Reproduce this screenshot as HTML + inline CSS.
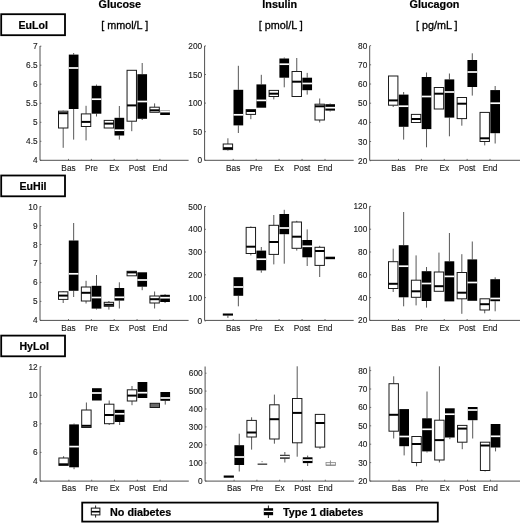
<!DOCTYPE html>
<html><head><meta charset="utf-8"><title>Box plots</title>
<style>
html,body{margin:0;padding:0;background:#fff;}
svg{display:block;}
text{font-family:"Liberation Sans",sans-serif;fill:#1c1c1c;}
.t{font-size:8.3px;fill:#1a1a1a;stroke:#1a1a1a;stroke-width:0.12px;}
.b{font-size:10.8px;font-weight:bold;fill:#000;stroke:#000;stroke-width:0.2px;}
.u{font-size:10.8px;fill:#000;stroke:#000;stroke-width:0.3px;}
</style></head><body>
<svg width="520" height="523" viewBox="0 0 520 523">
<defs><filter id="soft" x="0" y="0" width="520" height="523" filterUnits="userSpaceOnUse"><feGaussianBlur stdDeviation="0.38"/></filter></defs>
<rect width="520" height="523" fill="#fff"/>
<g filter="url(#soft)">
<rect width="520" height="523" fill="#fff"/>
<path d="M40 46V160.3H188.6" fill="none" stroke="#505050" stroke-width="1"/>
<path d="M40 46.2h1.4" stroke="#505050" stroke-width="0.8"/>
<text x="37.6" y="49.2" text-anchor="end" class="t">7</text>
<path d="M40 65.2h1.4" stroke="#505050" stroke-width="0.8"/>
<text x="37.6" y="68.2" text-anchor="end" class="t">6.5</text>
<path d="M40 84.2h1.4" stroke="#505050" stroke-width="0.8"/>
<text x="37.6" y="87.2" text-anchor="end" class="t">6</text>
<path d="M40 103.3h1.4" stroke="#505050" stroke-width="0.8"/>
<text x="37.6" y="106.3" text-anchor="end" class="t">5.5</text>
<path d="M40 122.3h1.4" stroke="#505050" stroke-width="0.8"/>
<text x="37.6" y="125.3" text-anchor="end" class="t">5</text>
<path d="M40 141.3h1.4" stroke="#505050" stroke-width="0.8"/>
<text x="37.6" y="144.3" text-anchor="end" class="t">4.5</text>
<path d="M40 160.3h1.4" stroke="#505050" stroke-width="0.8"/>
<text x="37.6" y="163.3" text-anchor="end" class="t">4</text>
<path d="M68.5 160.3v-1.4" stroke="#505050" stroke-width="0.8"/>
<text x="68.5" y="170.5" text-anchor="middle" class="t">Bas</text>
<path d="M63.2 110.6V111.2" stroke="#444" stroke-width="0.9"/>
<path d="M63.2 128V147.8" stroke="#444" stroke-width="0.9"/>
<rect x="58.5" y="111.2" width="9.4" height="16.8" fill="#fff" stroke="#1a1a1a" stroke-width="1"/>
<path d="M58.5 113.2H67.9" stroke="#000" stroke-width="2"/>
<path d="M73.65 53V54.6" stroke="#444" stroke-width="0.9"/>
<path d="M73.65 109V139.6" stroke="#444" stroke-width="0.9"/>
<rect x="68.8" y="54.6" width="9.7" height="54.4" fill="#000"/>
<path d="M68.8 68H78.5" stroke="#fff" stroke-width="1.7"/>
<path d="M91.35 160.3v-1.4" stroke="#505050" stroke-width="0.8"/>
<text x="91.35" y="170.5" text-anchor="middle" class="t">Pre</text>
<path d="M86.05 105.8V113.9" stroke="#444" stroke-width="0.9"/>
<path d="M86.05 126.5V140.4" stroke="#444" stroke-width="0.9"/>
<rect x="81.35" y="113.9" width="9.4" height="12.6" fill="#fff" stroke="#1a1a1a" stroke-width="1"/>
<path d="M81.35 121.9H90.75" stroke="#000" stroke-width="2"/>
<path d="M96.5 84.6V85.8" stroke="#444" stroke-width="0.9"/>
<path d="M96.5 113.7V116.5" stroke="#444" stroke-width="0.9"/>
<rect x="91.65" y="85.8" width="9.7" height="27.9" fill="#000"/>
<path d="M91.65 99.2H101.35" stroke="#fff" stroke-width="1.7"/>
<path d="M114.2 160.3v-1.4" stroke="#505050" stroke-width="0.8"/>
<text x="114.2" y="170.5" text-anchor="middle" class="t">Ex</text>
<rect x="104.2" y="120.4" width="9.4" height="7.6" fill="#fff" stroke="#1a1a1a" stroke-width="1"/>
<path d="M104.2 123.6H113.6" stroke="#000" stroke-width="2"/>
<path d="M119.35 106V117.8" stroke="#444" stroke-width="0.9"/>
<path d="M119.35 135.5V139.6" stroke="#444" stroke-width="0.9"/>
<rect x="114.5" y="117.8" width="9.7" height="17.7" fill="#000"/>
<path d="M114.5 130.2H124.2" stroke="#fff" stroke-width="1.7"/>
<path d="M137.05 160.3v-1.4" stroke="#505050" stroke-width="0.8"/>
<text x="137.05" y="170.5" text-anchor="middle" class="t">Post</text>
<path d="M131.75 121.2V131.2" stroke="#444" stroke-width="0.9"/>
<rect x="127.05" y="70.3" width="9.4" height="50.9" fill="#fff" stroke="#1a1a1a" stroke-width="1"/>
<path d="M127.05 105.4H136.45" stroke="#000" stroke-width="2"/>
<path d="M142.2 63V74.2" stroke="#444" stroke-width="0.9"/>
<path d="M142.2 118.8V120" stroke="#444" stroke-width="0.9"/>
<rect x="137.35" y="74.2" width="9.7" height="44.6" fill="#000"/>
<path d="M137.35 101.5H147.05" stroke="#fff" stroke-width="1.7"/>
<path d="M159.9 160.3v-1.4" stroke="#505050" stroke-width="0.8"/>
<text x="159.9" y="170.5" text-anchor="middle" class="t">End</text>
<path d="M154.6 103.4V107.2" stroke="#444" stroke-width="0.9"/>
<rect x="149.9" y="107.2" width="9.4" height="5.1" fill="#fff" stroke="#1a1a1a" stroke-width="1"/>
<path d="M149.9 110.3H159.3" stroke="#000" stroke-width="2"/>
<rect x="160.2" y="110.6" width="9.7" height="4.4" fill="#000"/>
<path d="M160.2 111.6H169.9" stroke="#fff" stroke-width="1.7"/>
<path d="M204.6 46V160.3H353.7" fill="none" stroke="#505050" stroke-width="1"/>
<path d="M204.6 45.9h1.4" stroke="#505050" stroke-width="0.8"/>
<text x="202.2" y="48.9" text-anchor="end" class="t">200</text>
<path d="M204.6 74.5h1.4" stroke="#505050" stroke-width="0.8"/>
<text x="202.2" y="77.5" text-anchor="end" class="t">150</text>
<path d="M204.6 103.1h1.4" stroke="#505050" stroke-width="0.8"/>
<text x="202.2" y="106.1" text-anchor="end" class="t">100</text>
<path d="M204.6 131.7h1.4" stroke="#505050" stroke-width="0.8"/>
<text x="202.2" y="134.7" text-anchor="end" class="t">50</text>
<path d="M204.6 160.3h1.4" stroke="#505050" stroke-width="0.8"/>
<text x="202.2" y="163.3" text-anchor="end" class="t">0</text>
<path d="M233.2 160.3v-1.4" stroke="#505050" stroke-width="0.8"/>
<text x="233.2" y="170.5" text-anchor="middle" class="t">Bas</text>
<path d="M227.9 138.3V144" stroke="#444" stroke-width="0.9"/>
<path d="M227.9 149.6V150.6" stroke="#444" stroke-width="0.9"/>
<rect x="223.2" y="144" width="9.4" height="5.6" fill="#fff" stroke="#1a1a1a" stroke-width="1"/>
<path d="M223.2 148.2H232.6" stroke="#000" stroke-width="2"/>
<path d="M238.35 65.8V89.8" stroke="#444" stroke-width="0.9"/>
<path d="M238.35 125.4V133" stroke="#444" stroke-width="0.9"/>
<rect x="233.5" y="89.8" width="9.7" height="35.6" fill="#000"/>
<path d="M233.5 114.8H243.2" stroke="#fff" stroke-width="1.7"/>
<path d="M256.15 160.3v-1.4" stroke="#505050" stroke-width="0.8"/>
<text x="256.15" y="170.5" text-anchor="middle" class="t">Pre</text>
<path d="M250.85 114.4V119.2" stroke="#444" stroke-width="0.9"/>
<rect x="246.15" y="109.6" width="9.4" height="4.8" fill="#fff" stroke="#1a1a1a" stroke-width="1"/>
<path d="M246.15 111H255.55" stroke="#000" stroke-width="2"/>
<path d="M261.3 74.8V84.4" stroke="#444" stroke-width="0.9"/>
<rect x="256.45" y="84.4" width="9.7" height="23.3" fill="#000"/>
<path d="M256.45 100.4H266.15" stroke="#fff" stroke-width="1.7"/>
<path d="M279.1 160.3v-1.4" stroke="#505050" stroke-width="0.8"/>
<text x="279.1" y="170.5" text-anchor="middle" class="t">Ex</text>
<path d="M273.8 96.5V99.4" stroke="#444" stroke-width="0.9"/>
<rect x="269.1" y="90.4" width="9.4" height="6.1" fill="#fff" stroke="#1a1a1a" stroke-width="1"/>
<path d="M269.1 93.7H278.5" stroke="#000" stroke-width="2"/>
<path d="M284.25 57.5V58.5" stroke="#444" stroke-width="0.9"/>
<path d="M284.25 77.7V87.3" stroke="#444" stroke-width="0.9"/>
<rect x="279.4" y="58.5" width="9.7" height="19.2" fill="#000"/>
<path d="M279.4 64.2H289.1" stroke="#fff" stroke-width="1.7"/>
<path d="M302.05 160.3v-1.4" stroke="#505050" stroke-width="0.8"/>
<text x="302.05" y="170.5" text-anchor="middle" class="t">Post</text>
<path d="M296.75 58V71.5" stroke="#444" stroke-width="0.9"/>
<rect x="292.05" y="71.5" width="9.4" height="25" fill="#fff" stroke="#1a1a1a" stroke-width="1"/>
<path d="M292.05 81.7H301.45" stroke="#000" stroke-width="2"/>
<path d="M307.2 72.9V77.7" stroke="#444" stroke-width="0.9"/>
<path d="M307.2 90.2V94.6" stroke="#444" stroke-width="0.9"/>
<rect x="302.35" y="77.7" width="9.7" height="12.5" fill="#000"/>
<path d="M302.35 83.5H312.05" stroke="#fff" stroke-width="1.7"/>
<path d="M325 160.3v-1.4" stroke="#505050" stroke-width="0.8"/>
<text x="325" y="170.5" text-anchor="middle" class="t">End</text>
<path d="M319.7 98.5V104.2" stroke="#444" stroke-width="0.9"/>
<path d="M319.7 120V122.5" stroke="#444" stroke-width="0.9"/>
<rect x="315" y="104.2" width="9.4" height="15.8" fill="#fff" stroke="#1a1a1a" stroke-width="1"/>
<path d="M315 106.3H324.4" stroke="#000" stroke-width="2"/>
<path d="M330.15 103.5V104.2" stroke="#444" stroke-width="0.9"/>
<path d="M330.15 110.6V111.5" stroke="#444" stroke-width="0.9"/>
<rect x="325.3" y="104.2" width="9.7" height="6.4" fill="#000"/>
<path d="M325.3 107.7H335" stroke="#fff" stroke-width="1.7"/>
<path d="M369.7 46V160.3H520.5" fill="none" stroke="#505050" stroke-width="1"/>
<path d="M369.7 45.6h1.4" stroke="#505050" stroke-width="0.8"/>
<text x="367.3" y="48.6" text-anchor="end" class="t">80</text>
<path d="M369.7 64.8h1.4" stroke="#505050" stroke-width="0.8"/>
<text x="367.3" y="67.8" text-anchor="end" class="t">70</text>
<path d="M369.7 84h1.4" stroke="#505050" stroke-width="0.8"/>
<text x="367.3" y="87" text-anchor="end" class="t">60</text>
<path d="M369.7 103.2h1.4" stroke="#505050" stroke-width="0.8"/>
<text x="367.3" y="106.2" text-anchor="end" class="t">50</text>
<path d="M369.7 122.4h1.4" stroke="#505050" stroke-width="0.8"/>
<text x="367.3" y="125.4" text-anchor="end" class="t">40</text>
<path d="M369.7 141.5h1.4" stroke="#505050" stroke-width="0.8"/>
<text x="367.3" y="144.5" text-anchor="end" class="t">30</text>
<path d="M369.7 160.7h1.4" stroke="#505050" stroke-width="0.8"/>
<text x="367.3" y="163.7" text-anchor="end" class="t">20</text>
<path d="M398.5 160.3v-1.4" stroke="#505050" stroke-width="0.8"/>
<text x="398.5" y="170.5" text-anchor="middle" class="t">Bas</text>
<path d="M393.2 105.2V107" stroke="#444" stroke-width="0.9"/>
<rect x="388.5" y="76" width="9.4" height="29.2" fill="#fff" stroke="#1a1a1a" stroke-width="1"/>
<path d="M388.5 100.4H397.9" stroke="#000" stroke-width="2"/>
<path d="M403.65 92V94.6" stroke="#444" stroke-width="0.9"/>
<path d="M403.65 126.8V139.6" stroke="#444" stroke-width="0.9"/>
<rect x="398.8" y="94.6" width="9.7" height="32.2" fill="#000"/>
<path d="M398.8 106.2H408.5" stroke="#fff" stroke-width="1.7"/>
<path d="M421.38 160.3v-1.4" stroke="#505050" stroke-width="0.8"/>
<text x="421.38" y="170.5" text-anchor="middle" class="t">Pre</text>
<rect x="411.38" y="114.4" width="9.4" height="8.1" fill="#fff" stroke="#1a1a1a" stroke-width="1"/>
<path d="M411.38 119H420.78" stroke="#000" stroke-width="2"/>
<path d="M426.53 72.5V77" stroke="#444" stroke-width="0.9"/>
<path d="M426.53 129.1V147.3" stroke="#444" stroke-width="0.9"/>
<rect x="421.68" y="77" width="9.7" height="52.1" fill="#000"/>
<path d="M421.68 96.5H431.38" stroke="#fff" stroke-width="1.7"/>
<path d="M444.26 160.3v-1.4" stroke="#505050" stroke-width="0.8"/>
<text x="444.26" y="170.5" text-anchor="middle" class="t">Ex</text>
<rect x="434.26" y="87.5" width="9.4" height="21.5" fill="#fff" stroke="#1a1a1a" stroke-width="1"/>
<path d="M434.26 93.7H443.66" stroke="#000" stroke-width="2"/>
<path d="M449.41 73.5V79.4" stroke="#444" stroke-width="0.9"/>
<path d="M449.41 117.6V136.3" stroke="#444" stroke-width="0.9"/>
<rect x="444.56" y="79.4" width="9.7" height="38.2" fill="#000"/>
<path d="M444.56 92H454.26" stroke="#fff" stroke-width="1.7"/>
<path d="M467.14 160.3v-1.4" stroke="#505050" stroke-width="0.8"/>
<text x="467.14" y="170.5" text-anchor="middle" class="t">Post</text>
<path d="M461.84 118.6V125.7" stroke="#444" stroke-width="0.9"/>
<rect x="457.14" y="97.5" width="9.4" height="21.1" fill="#fff" stroke="#1a1a1a" stroke-width="1"/>
<path d="M457.14 103.7H466.54" stroke="#000" stroke-width="2"/>
<path d="M472.29 53.3V60" stroke="#444" stroke-width="0.9"/>
<path d="M472.29 87V95.6" stroke="#444" stroke-width="0.9"/>
<rect x="467.44" y="60" width="9.7" height="27" fill="#000"/>
<path d="M467.44 72H477.14" stroke="#fff" stroke-width="1.7"/>
<path d="M490.02 160.3v-1.4" stroke="#505050" stroke-width="0.8"/>
<text x="490.02" y="170.5" text-anchor="middle" class="t">End</text>
<path d="M484.72 141.5V145.4" stroke="#444" stroke-width="0.9"/>
<rect x="480.02" y="112.4" width="9.4" height="29.1" fill="#fff" stroke="#1a1a1a" stroke-width="1"/>
<path d="M480.02 138.3H489.42" stroke="#000" stroke-width="2"/>
<path d="M495.17 86V90.1" stroke="#444" stroke-width="0.9"/>
<path d="M495.17 133.2V143.5" stroke="#444" stroke-width="0.9"/>
<rect x="490.32" y="90.1" width="9.7" height="43.1" fill="#000"/>
<path d="M490.32 103.2H500.02" stroke="#fff" stroke-width="1.7"/>
<path d="M40 206.3V320.4H188.6" fill="none" stroke="#505050" stroke-width="1"/>
<path d="M40 206.5h1.4" stroke="#505050" stroke-width="0.8"/>
<text x="37.6" y="209.5" text-anchor="end" class="t">10</text>
<path d="M40 225.5h1.4" stroke="#505050" stroke-width="0.8"/>
<text x="37.6" y="228.5" text-anchor="end" class="t">9</text>
<path d="M40 244.5h1.4" stroke="#505050" stroke-width="0.8"/>
<text x="37.6" y="247.5" text-anchor="end" class="t">8</text>
<path d="M40 263.4h1.4" stroke="#505050" stroke-width="0.8"/>
<text x="37.6" y="266.4" text-anchor="end" class="t">7</text>
<path d="M40 282.4h1.4" stroke="#505050" stroke-width="0.8"/>
<text x="37.6" y="285.4" text-anchor="end" class="t">6</text>
<path d="M40 301.4h1.4" stroke="#505050" stroke-width="0.8"/>
<text x="37.6" y="304.4" text-anchor="end" class="t">5</text>
<path d="M40 320.4h1.4" stroke="#505050" stroke-width="0.8"/>
<text x="37.6" y="323.4" text-anchor="end" class="t">4</text>
<path d="M68.5 320.4v-1.4" stroke="#505050" stroke-width="0.8"/>
<text x="68.5" y="330.6" text-anchor="middle" class="t">Bas</text>
<path d="M63.2 291V291.8" stroke="#444" stroke-width="0.9"/>
<path d="M63.2 299.4V303" stroke="#444" stroke-width="0.9"/>
<rect x="58.5" y="291.8" width="9.4" height="7.6" fill="#fff" stroke="#1a1a1a" stroke-width="1"/>
<path d="M58.5 295.6H67.9" stroke="#000" stroke-width="2"/>
<path d="M73.65 223V240.5" stroke="#444" stroke-width="0.9"/>
<path d="M73.65 290.8V297" stroke="#444" stroke-width="0.9"/>
<rect x="68.8" y="240.5" width="9.7" height="50.3" fill="#000"/>
<path d="M68.8 273.8H78.5" stroke="#fff" stroke-width="1.7"/>
<path d="M91.35 320.4v-1.4" stroke="#505050" stroke-width="0.8"/>
<text x="91.35" y="330.6" text-anchor="middle" class="t">Pre</text>
<path d="M86.05 280.8V287" stroke="#444" stroke-width="0.9"/>
<path d="M86.05 301V303.5" stroke="#444" stroke-width="0.9"/>
<rect x="81.35" y="287" width="9.4" height="14" fill="#fff" stroke="#1a1a1a" stroke-width="1"/>
<path d="M81.35 292.8H90.75" stroke="#000" stroke-width="2"/>
<path d="M96.5 275V285.8" stroke="#444" stroke-width="0.9"/>
<path d="M96.5 308.6V309.5" stroke="#444" stroke-width="0.9"/>
<rect x="91.65" y="285.8" width="9.7" height="22.8" fill="#000"/>
<path d="M91.65 297.5H101.35" stroke="#fff" stroke-width="1.7"/>
<path d="M114.2 320.4v-1.4" stroke="#505050" stroke-width="0.8"/>
<text x="114.2" y="330.6" text-anchor="middle" class="t">Ex</text>
<path d="M108.9 301V302.3" stroke="#444" stroke-width="0.9"/>
<path d="M108.9 306.3V309.6" stroke="#444" stroke-width="0.9"/>
<rect x="104.2" y="302.3" width="9.4" height="4" fill="#fff" stroke="#1a1a1a" stroke-width="1"/>
<path d="M104.2 304.8H113.6" stroke="#000" stroke-width="2"/>
<path d="M119.35 282.3V288" stroke="#444" stroke-width="0.9"/>
<path d="M119.35 300.6V308.5" stroke="#444" stroke-width="0.9"/>
<rect x="114.5" y="288" width="9.7" height="12.6" fill="#000"/>
<path d="M114.5 297.3H124.2" stroke="#fff" stroke-width="1.7"/>
<path d="M137.05 320.4v-1.4" stroke="#505050" stroke-width="0.8"/>
<text x="137.05" y="330.6" text-anchor="middle" class="t">Post</text>
<rect x="127.05" y="271.3" width="9.4" height="4.5" fill="#fff" stroke="#1a1a1a" stroke-width="1"/>
<path d="M127.05 272.4H136.45" stroke="#000" stroke-width="2"/>
<path d="M142.2 286.7V290.2" stroke="#444" stroke-width="0.9"/>
<rect x="137.35" y="272.3" width="9.7" height="14.4" fill="#000"/>
<path d="M137.35 280H147.05" stroke="#fff" stroke-width="1.7"/>
<path d="M159.9 320.4v-1.4" stroke="#505050" stroke-width="0.8"/>
<text x="159.9" y="330.6" text-anchor="middle" class="t">End</text>
<path d="M154.6 291.5V296" stroke="#444" stroke-width="0.9"/>
<path d="M154.6 303V308.5" stroke="#444" stroke-width="0.9"/>
<rect x="149.9" y="296" width="9.4" height="7" fill="#fff" stroke="#1a1a1a" stroke-width="1"/>
<path d="M149.9 299.2H159.3" stroke="#000" stroke-width="2"/>
<path d="M165.05 294V294.8" stroke="#444" stroke-width="0.9"/>
<path d="M165.05 302V303" stroke="#444" stroke-width="0.9"/>
<rect x="160.2" y="294.8" width="9.7" height="7.2" fill="#000"/>
<path d="M160.2 297.7H169.9" stroke="#fff" stroke-width="1.7"/>
<path d="M204.6 206.3V320.4H353.7" fill="none" stroke="#505050" stroke-width="1"/>
<path d="M204.6 206.5h1.4" stroke="#505050" stroke-width="0.8"/>
<text x="202.2" y="209.5" text-anchor="end" class="t">500</text>
<path d="M204.6 229.3h1.4" stroke="#505050" stroke-width="0.8"/>
<text x="202.2" y="232.3" text-anchor="end" class="t">400</text>
<path d="M204.6 252h1.4" stroke="#505050" stroke-width="0.8"/>
<text x="202.2" y="255" text-anchor="end" class="t">300</text>
<path d="M204.6 274.8h1.4" stroke="#505050" stroke-width="0.8"/>
<text x="202.2" y="277.8" text-anchor="end" class="t">200</text>
<path d="M204.6 297.6h1.4" stroke="#505050" stroke-width="0.8"/>
<text x="202.2" y="300.6" text-anchor="end" class="t">100</text>
<path d="M204.6 320.9h1.4" stroke="#505050" stroke-width="0.8"/>
<text x="202.2" y="323.9" text-anchor="end" class="t">0</text>
<path d="M233.2 320.4v-1.4" stroke="#505050" stroke-width="0.8"/>
<text x="233.2" y="330.6" text-anchor="middle" class="t">Bas</text>
<path d="M227.9 315.6V317.9" stroke="#444" stroke-width="0.9"/>
<rect x="222.8" y="313.5" width="10.2" height="2.1" fill="#000"/>
<path d="M238.35 295.8V306.3" stroke="#444" stroke-width="0.9"/>
<rect x="233.5" y="277.2" width="9.7" height="18.6" fill="#000"/>
<path d="M233.5 287H243.2" stroke="#fff" stroke-width="1.7"/>
<path d="M256.15 320.4v-1.4" stroke="#505050" stroke-width="0.8"/>
<text x="256.15" y="330.6" text-anchor="middle" class="t">Pre</text>
<path d="M250.85 226.4V227.4" stroke="#444" stroke-width="0.9"/>
<path d="M250.85 253.5V255.4" stroke="#444" stroke-width="0.9"/>
<rect x="246.15" y="227.4" width="9.4" height="26.1" fill="#fff" stroke="#1a1a1a" stroke-width="1"/>
<path d="M246.15 246.7H255.55" stroke="#000" stroke-width="2"/>
<path d="M261.3 247V250.6" stroke="#444" stroke-width="0.9"/>
<path d="M261.3 270.4V272.7" stroke="#444" stroke-width="0.9"/>
<rect x="256.45" y="250.6" width="9.7" height="19.8" fill="#000"/>
<path d="M256.45 259.2H266.15" stroke="#fff" stroke-width="1.7"/>
<path d="M279.1 320.4v-1.4" stroke="#505050" stroke-width="0.8"/>
<text x="279.1" y="330.6" text-anchor="middle" class="t">Ex</text>
<path d="M273.8 215V225.3" stroke="#444" stroke-width="0.9"/>
<path d="M273.8 254.4V264.4" stroke="#444" stroke-width="0.9"/>
<rect x="269.1" y="225.3" width="9.4" height="29.1" fill="#fff" stroke="#1a1a1a" stroke-width="1"/>
<path d="M269.1 242H278.5" stroke="#000" stroke-width="2"/>
<path d="M284.25 209.8V214" stroke="#444" stroke-width="0.9"/>
<path d="M284.25 234.2V263.7" stroke="#444" stroke-width="0.9"/>
<rect x="279.4" y="214" width="9.7" height="20.2" fill="#000"/>
<path d="M279.4 228H289.1" stroke="#fff" stroke-width="1.7"/>
<path d="M302.05 320.4v-1.4" stroke="#505050" stroke-width="0.8"/>
<text x="302.05" y="330.6" text-anchor="middle" class="t">Post</text>
<path d="M296.75 220.8V222" stroke="#444" stroke-width="0.9"/>
<path d="M296.75 248.3V250.6" stroke="#444" stroke-width="0.9"/>
<rect x="292.05" y="222" width="9.4" height="26.3" fill="#fff" stroke="#1a1a1a" stroke-width="1"/>
<path d="M292.05 236.7H301.45" stroke="#000" stroke-width="2"/>
<path d="M307.2 229.4V240" stroke="#444" stroke-width="0.9"/>
<path d="M307.2 257.3V266" stroke="#444" stroke-width="0.9"/>
<rect x="302.35" y="240" width="9.7" height="17.3" fill="#000"/>
<path d="M302.35 246.3H312.05" stroke="#fff" stroke-width="1.7"/>
<path d="M325 320.4v-1.4" stroke="#505050" stroke-width="0.8"/>
<text x="325" y="330.6" text-anchor="middle" class="t">End</text>
<path d="M319.7 245.8V247.3" stroke="#444" stroke-width="0.9"/>
<path d="M319.7 265.4V277" stroke="#444" stroke-width="0.9"/>
<rect x="315" y="247.3" width="9.4" height="18.1" fill="#fff" stroke="#1a1a1a" stroke-width="1"/>
<path d="M315 251H324.4" stroke="#000" stroke-width="2"/>
<rect x="325.3" y="256.7" width="9.7" height="2.5" fill="#000"/>
<path d="M369.7 206.3V320.4H520.5" fill="none" stroke="#505050" stroke-width="1"/>
<path d="M369.7 206.4h1.4" stroke="#505050" stroke-width="0.8"/>
<text x="367.3" y="209.4" text-anchor="end" class="t">120</text>
<path d="M369.7 229.2h1.4" stroke="#505050" stroke-width="0.8"/>
<text x="367.3" y="232.2" text-anchor="end" class="t">100</text>
<path d="M369.7 252h1.4" stroke="#505050" stroke-width="0.8"/>
<text x="367.3" y="255" text-anchor="end" class="t">80</text>
<path d="M369.7 274.8h1.4" stroke="#505050" stroke-width="0.8"/>
<text x="367.3" y="277.8" text-anchor="end" class="t">60</text>
<path d="M369.7 297.6h1.4" stroke="#505050" stroke-width="0.8"/>
<text x="367.3" y="300.6" text-anchor="end" class="t">40</text>
<path d="M369.7 320.4h1.4" stroke="#505050" stroke-width="0.8"/>
<text x="367.3" y="323.4" text-anchor="end" class="t">20</text>
<path d="M398.5 320.4v-1.4" stroke="#505050" stroke-width="0.8"/>
<text x="398.5" y="330.6" text-anchor="middle" class="t">Bas</text>
<path d="M393.2 248.7V261.7" stroke="#444" stroke-width="0.9"/>
<path d="M393.2 288.5V292" stroke="#444" stroke-width="0.9"/>
<rect x="388.5" y="261.7" width="9.4" height="26.8" fill="#fff" stroke="#1a1a1a" stroke-width="1"/>
<path d="M388.5 283.8H397.9" stroke="#000" stroke-width="2"/>
<path d="M403.65 212V245.2" stroke="#444" stroke-width="0.9"/>
<path d="M403.65 297.3V306.3" stroke="#444" stroke-width="0.9"/>
<rect x="398.8" y="245.2" width="9.7" height="52.1" fill="#000"/>
<path d="M398.8 266.2H408.5" stroke="#fff" stroke-width="1.7"/>
<path d="M421.38 320.4v-1.4" stroke="#505050" stroke-width="0.8"/>
<text x="421.38" y="330.6" text-anchor="middle" class="t">Pre</text>
<path d="M416.08 255.4V280.2" stroke="#444" stroke-width="0.9"/>
<path d="M416.08 297.3V305.4" stroke="#444" stroke-width="0.9"/>
<rect x="411.38" y="280.2" width="9.4" height="17.1" fill="#fff" stroke="#1a1a1a" stroke-width="1"/>
<path d="M411.38 291.3H420.78" stroke="#000" stroke-width="2"/>
<path d="M426.53 267V271.2" stroke="#444" stroke-width="0.9"/>
<path d="M426.53 301V307.6" stroke="#444" stroke-width="0.9"/>
<rect x="421.68" y="271.2" width="9.7" height="29.8" fill="#000"/>
<path d="M421.68 283.5H431.38" stroke="#fff" stroke-width="1.7"/>
<path d="M444.26 320.4v-1.4" stroke="#505050" stroke-width="0.8"/>
<text x="444.26" y="330.6" text-anchor="middle" class="t">Ex</text>
<path d="M438.96 252.6V272" stroke="#444" stroke-width="0.9"/>
<rect x="434.26" y="272" width="9.4" height="19.3" fill="#fff" stroke="#1a1a1a" stroke-width="1"/>
<path d="M434.26 286.2H443.66" stroke="#000" stroke-width="2"/>
<path d="M449.41 233V261.3" stroke="#444" stroke-width="0.9"/>
<rect x="444.56" y="261.3" width="9.7" height="40.1" fill="#000"/>
<path d="M444.56 276.4H454.26" stroke="#fff" stroke-width="1.7"/>
<path d="M467.14 320.4v-1.4" stroke="#505050" stroke-width="0.8"/>
<text x="467.14" y="330.6" text-anchor="middle" class="t">Post</text>
<path d="M461.84 254.2V272.5" stroke="#444" stroke-width="0.9"/>
<path d="M461.84 298.8V313.8" stroke="#444" stroke-width="0.9"/>
<rect x="457.14" y="272.5" width="9.4" height="26.3" fill="#fff" stroke="#1a1a1a" stroke-width="1"/>
<path d="M457.14 292.7H466.54" stroke="#000" stroke-width="2"/>
<path d="M472.29 241.5V259.4" stroke="#444" stroke-width="0.9"/>
<rect x="467.44" y="259.4" width="9.7" height="41.4" fill="#000"/>
<path d="M467.44 282.5H477.14" stroke="#fff" stroke-width="1.7"/>
<path d="M490.02 320.4v-1.4" stroke="#505050" stroke-width="0.8"/>
<text x="490.02" y="330.6" text-anchor="middle" class="t">End</text>
<path d="M484.72 310V313.3" stroke="#444" stroke-width="0.9"/>
<rect x="480.02" y="298.8" width="9.4" height="11.2" fill="#fff" stroke="#1a1a1a" stroke-width="1"/>
<path d="M480.02 304.2H489.42" stroke="#000" stroke-width="2"/>
<path d="M495.17 277.3V279.2" stroke="#444" stroke-width="0.9"/>
<path d="M495.17 301.2V311.3" stroke="#444" stroke-width="0.9"/>
<rect x="490.32" y="279.2" width="9.7" height="22" fill="#000"/>
<path d="M490.32 298.5H500.02" stroke="#fff" stroke-width="1.7"/>
<path d="M40.1 366.5V481.1H188.8" fill="none" stroke="#505050" stroke-width="1"/>
<path d="M40.1 366.7h1.4" stroke="#505050" stroke-width="0.8"/>
<text x="37.7" y="369.7" text-anchor="end" class="t">12</text>
<path d="M40.1 395.3h1.4" stroke="#505050" stroke-width="0.8"/>
<text x="37.7" y="398.3" text-anchor="end" class="t">10</text>
<path d="M40.1 423.8h1.4" stroke="#505050" stroke-width="0.8"/>
<text x="37.7" y="426.8" text-anchor="end" class="t">8</text>
<path d="M40.1 452.4h1.4" stroke="#505050" stroke-width="0.8"/>
<text x="37.7" y="455.4" text-anchor="end" class="t">6</text>
<path d="M40.1 481h1.4" stroke="#505050" stroke-width="0.8"/>
<text x="37.7" y="484" text-anchor="end" class="t">4</text>
<path d="M68.9 481.1v-1.4" stroke="#505050" stroke-width="0.8"/>
<text x="68.9" y="491.3" text-anchor="middle" class="t">Bas</text>
<path d="M63.6 456.2V458" stroke="#444" stroke-width="0.9"/>
<rect x="58.9" y="458" width="9.4" height="7.4" fill="#fff" stroke="#1a1a1a" stroke-width="1"/>
<path d="M58.9 464.3H68.3" stroke="#000" stroke-width="2"/>
<path d="M74.05 423.5V424.4" stroke="#444" stroke-width="0.9"/>
<path d="M74.05 467.3V469.2" stroke="#444" stroke-width="0.9"/>
<rect x="69.2" y="424.4" width="9.7" height="42.9" fill="#000"/>
<path d="M69.2 446.6H78.9" stroke="#fff" stroke-width="1.7"/>
<path d="M91.7 481.1v-1.4" stroke="#505050" stroke-width="0.8"/>
<text x="91.7" y="491.3" text-anchor="middle" class="t">Pre</text>
<path d="M86.4 402.5V410" stroke="#444" stroke-width="0.9"/>
<rect x="81.7" y="410" width="9.4" height="17.5" fill="#fff" stroke="#1a1a1a" stroke-width="1"/>
<path d="M81.7 425.8H91.1" stroke="#000" stroke-width="2"/>
<rect x="92" y="388.2" width="9.7" height="12.3" fill="#000"/>
<path d="M92 393H101.7" stroke="#fff" stroke-width="1.7"/>
<path d="M114.5 481.1v-1.4" stroke="#505050" stroke-width="0.8"/>
<text x="114.5" y="491.3" text-anchor="middle" class="t">Ex</text>
<path d="M109.2 400.5V404.2" stroke="#444" stroke-width="0.9"/>
<path d="M109.2 423.7V425" stroke="#444" stroke-width="0.9"/>
<rect x="104.5" y="404.2" width="9.4" height="19.5" fill="#fff" stroke="#1a1a1a" stroke-width="1"/>
<path d="M104.5 415H113.9" stroke="#000" stroke-width="2"/>
<path d="M119.65 422V425" stroke="#444" stroke-width="0.9"/>
<rect x="114.8" y="409.8" width="9.7" height="12.2" fill="#000"/>
<path d="M114.8 413.8H124.5" stroke="#fff" stroke-width="1.7"/>
<path d="M137.3 481.1v-1.4" stroke="#505050" stroke-width="0.8"/>
<text x="137.3" y="491.3" text-anchor="middle" class="t">Post</text>
<path d="M132 386V389.8" stroke="#444" stroke-width="0.9"/>
<path d="M132 401V405.2" stroke="#444" stroke-width="0.9"/>
<rect x="127.3" y="389.8" width="9.4" height="11.2" fill="#fff" stroke="#1a1a1a" stroke-width="1"/>
<path d="M127.3 395.6H136.7" stroke="#000" stroke-width="2"/>
<rect x="137.6" y="382" width="9.7" height="16" fill="#000"/>
<path d="M137.6 392.7H147.3" stroke="#fff" stroke-width="1.7"/>
<path d="M160.1 481.1v-1.4" stroke="#505050" stroke-width="0.8"/>
<text x="160.1" y="491.3" text-anchor="middle" class="t">End</text>
<rect x="150.1" y="403.3" width="9.4" height="4.2" fill="#6a6a6a" stroke="#1a1a1a" stroke-width="1"/>
<path d="M165.25 400.8V404.6" stroke="#444" stroke-width="0.9"/>
<rect x="160.4" y="392" width="9.7" height="8.8" fill="#000"/>
<path d="M160.4 398H170.1" stroke="#fff" stroke-width="1.7"/>
<path d="M205.1 366.5V481.1H354" fill="none" stroke="#505050" stroke-width="1"/>
<path d="M205.1 373.2h1.4" stroke="#505050" stroke-width="0.8"/>
<text x="202.7" y="376.2" text-anchor="end" class="t">600</text>
<path d="M205.1 391.1h1.4" stroke="#505050" stroke-width="0.8"/>
<text x="202.7" y="394.1" text-anchor="end" class="t">500</text>
<path d="M205.1 409h1.4" stroke="#505050" stroke-width="0.8"/>
<text x="202.7" y="412" text-anchor="end" class="t">400</text>
<path d="M205.1 426.9h1.4" stroke="#505050" stroke-width="0.8"/>
<text x="202.7" y="429.9" text-anchor="end" class="t">300</text>
<path d="M205.1 444.9h1.4" stroke="#505050" stroke-width="0.8"/>
<text x="202.7" y="447.9" text-anchor="end" class="t">200</text>
<path d="M205.1 463h1.4" stroke="#505050" stroke-width="0.8"/>
<text x="202.7" y="466" text-anchor="end" class="t">100</text>
<path d="M205.1 481h1.4" stroke="#505050" stroke-width="0.8"/>
<text x="202.7" y="484" text-anchor="end" class="t">0</text>
<path d="M234.1 481.1v-1.4" stroke="#505050" stroke-width="0.8"/>
<text x="234.1" y="491.3" text-anchor="middle" class="t">Bas</text>
<rect x="223.7" y="475.5" width="10.2" height="2.2" fill="#000"/>
<path d="M239.25 433.7V445.2" stroke="#444" stroke-width="0.9"/>
<path d="M239.25 465V471.5" stroke="#444" stroke-width="0.9"/>
<rect x="234.4" y="445.2" width="9.7" height="19.8" fill="#000"/>
<path d="M234.4 457H244.1" stroke="#fff" stroke-width="1.7"/>
<path d="M256.9 481.1v-1.4" stroke="#505050" stroke-width="0.8"/>
<text x="256.9" y="491.3" text-anchor="middle" class="t">Pre</text>
<path d="M251.6 417.3V420.4" stroke="#444" stroke-width="0.9"/>
<path d="M251.6 437V449.6" stroke="#444" stroke-width="0.9"/>
<rect x="246.9" y="420.4" width="9.4" height="16.6" fill="#fff" stroke="#1a1a1a" stroke-width="1"/>
<path d="M246.9 432.5H256.3" stroke="#000" stroke-width="2"/>
<path d="M257.6 464.2H267.2" stroke="#444" stroke-width="1.4"/>
<path d="M262.05 461.0v1.2" stroke="#777" stroke-width="0.9"/>
<path d="M279.7 481.1v-1.4" stroke="#505050" stroke-width="0.8"/>
<text x="279.7" y="491.3" text-anchor="middle" class="t">Ex</text>
<path d="M274.4 394.6V404.8" stroke="#444" stroke-width="0.9"/>
<path d="M274.4 439V443.7" stroke="#444" stroke-width="0.9"/>
<rect x="269.7" y="404.8" width="9.4" height="34.2" fill="#fff" stroke="#1a1a1a" stroke-width="1"/>
<path d="M269.7 419.2H279.1" stroke="#000" stroke-width="2"/>
<path d="M284.85 452V454.8" stroke="#444" stroke-width="0.9"/>
<path d="M284.85 458.7V462.5" stroke="#444" stroke-width="0.9"/>
<rect x="280" y="454.8" width="9.7" height="3.9" fill="#000"/>
<path d="M280 456.6H289.7" stroke="#fff" stroke-width="1.7"/>
<path d="M302.5 481.1v-1.4" stroke="#505050" stroke-width="0.8"/>
<text x="302.5" y="491.3" text-anchor="middle" class="t">Post</text>
<path d="M297.2 366.3V398.5" stroke="#444" stroke-width="0.9"/>
<path d="M297.2 442.8V456.7" stroke="#444" stroke-width="0.9"/>
<rect x="292.5" y="398.5" width="9.4" height="44.3" fill="#fff" stroke="#1a1a1a" stroke-width="1"/>
<path d="M292.5 412.9H301.9" stroke="#000" stroke-width="2"/>
<path d="M307.65 455.6V457.3" stroke="#444" stroke-width="0.9"/>
<path d="M307.65 463.1V466" stroke="#444" stroke-width="0.9"/>
<rect x="302.8" y="457.3" width="9.7" height="5.8" fill="#000"/>
<path d="M302.8 460.1H312.5" stroke="#fff" stroke-width="1.7"/>
<path d="M325.3 481.1v-1.4" stroke="#505050" stroke-width="0.8"/>
<text x="325.3" y="491.3" text-anchor="middle" class="t">End</text>
<path d="M320 447.1V449" stroke="#444" stroke-width="0.9"/>
<rect x="315.3" y="414.4" width="9.4" height="32.7" fill="#fff" stroke="#1a1a1a" stroke-width="1"/>
<path d="M315.3 423H324.7" stroke="#000" stroke-width="2"/>
<rect x="326" y="462.4" width="9.5" height="2.9" fill="#f4f4f4" stroke="#8a8a8a" stroke-width="0.8"/>
<path d="M326 465.1H335.5" stroke="#777" stroke-width="0.8"/>
<path d="M330.45 460.5V466" stroke="#888" stroke-width="0.9"/>
<path d="M369.8 366.5V481.1H520.5" fill="none" stroke="#505050" stroke-width="1"/>
<path d="M369.8 370.6h1.4" stroke="#505050" stroke-width="0.8"/>
<text x="367.4" y="373.6" text-anchor="end" class="t">80</text>
<path d="M369.8 389h1.4" stroke="#505050" stroke-width="0.8"/>
<text x="367.4" y="392" text-anchor="end" class="t">70</text>
<path d="M369.8 407.4h1.4" stroke="#505050" stroke-width="0.8"/>
<text x="367.4" y="410.4" text-anchor="end" class="t">60</text>
<path d="M369.8 425.8h1.4" stroke="#505050" stroke-width="0.8"/>
<text x="367.4" y="428.8" text-anchor="end" class="t">50</text>
<path d="M369.8 444.2h1.4" stroke="#505050" stroke-width="0.8"/>
<text x="367.4" y="447.2" text-anchor="end" class="t">40</text>
<path d="M369.8 462.6h1.4" stroke="#505050" stroke-width="0.8"/>
<text x="367.4" y="465.6" text-anchor="end" class="t">30</text>
<path d="M369.8 481h1.4" stroke="#505050" stroke-width="0.8"/>
<text x="367.4" y="484" text-anchor="end" class="t">20</text>
<path d="M399 481.1v-1.4" stroke="#505050" stroke-width="0.8"/>
<text x="399" y="491.3" text-anchor="middle" class="t">Bas</text>
<path d="M393.7 376.3V383.7" stroke="#444" stroke-width="0.9"/>
<path d="M393.7 431.2V438.5" stroke="#444" stroke-width="0.9"/>
<rect x="389" y="383.7" width="9.4" height="47.5" fill="#fff" stroke="#1a1a1a" stroke-width="1"/>
<path d="M389 414.8H398.4" stroke="#000" stroke-width="2"/>
<path d="M404.15 446.2V455.4" stroke="#444" stroke-width="0.9"/>
<rect x="399.3" y="409.1" width="9.7" height="37.1" fill="#000"/>
<path d="M399.3 436.5H409" stroke="#fff" stroke-width="1.7"/>
<path d="M421.85 481.1v-1.4" stroke="#505050" stroke-width="0.8"/>
<text x="421.85" y="491.3" text-anchor="middle" class="t">Pre</text>
<path d="M416.55 462.5V466.3" stroke="#444" stroke-width="0.9"/>
<rect x="411.85" y="436.5" width="9.4" height="26" fill="#fff" stroke="#1a1a1a" stroke-width="1"/>
<path d="M411.85 444H421.25" stroke="#000" stroke-width="2"/>
<path d="M427 391.5V418.3" stroke="#444" stroke-width="0.9"/>
<path d="M427 451.4V452.5" stroke="#444" stroke-width="0.9"/>
<rect x="422.15" y="418.3" width="9.7" height="33.1" fill="#000"/>
<path d="M422.15 429.3H431.85" stroke="#fff" stroke-width="1.7"/>
<path d="M444.7 481.1v-1.4" stroke="#505050" stroke-width="0.8"/>
<text x="444.7" y="491.3" text-anchor="middle" class="t">Ex</text>
<path d="M439.4 366.3V420.2" stroke="#444" stroke-width="0.9"/>
<path d="M439.4 460V462.5" stroke="#444" stroke-width="0.9"/>
<rect x="434.7" y="420.2" width="9.4" height="39.8" fill="#fff" stroke="#1a1a1a" stroke-width="1"/>
<path d="M434.7 440.1H444.1" stroke="#000" stroke-width="2"/>
<path d="M449.85 437.5V439.2" stroke="#444" stroke-width="0.9"/>
<rect x="445" y="408.3" width="9.7" height="29.2" fill="#000"/>
<path d="M445 414.2H454.7" stroke="#fff" stroke-width="1.7"/>
<path d="M467.55 481.1v-1.4" stroke="#505050" stroke-width="0.8"/>
<text x="467.55" y="491.3" text-anchor="middle" class="t">Post</text>
<path d="M462.25 442.2V449.2" stroke="#444" stroke-width="0.9"/>
<rect x="457.55" y="425.4" width="9.4" height="16.8" fill="#fff" stroke="#1a1a1a" stroke-width="1"/>
<path d="M457.55 428.6H466.95" stroke="#000" stroke-width="2"/>
<path d="M472.7 420.2V438.5" stroke="#444" stroke-width="0.9"/>
<rect x="467.85" y="407" width="9.7" height="13.2" fill="#000"/>
<path d="M467.85 410H477.55" stroke="#fff" stroke-width="1.7"/>
<path d="M490.4 481.1v-1.4" stroke="#505050" stroke-width="0.8"/>
<text x="490.4" y="491.3" text-anchor="middle" class="t">End</text>
<path d="M485.1 470.5V471.5" stroke="#444" stroke-width="0.9"/>
<rect x="480.4" y="442.2" width="9.4" height="28.3" fill="#fff" stroke="#1a1a1a" stroke-width="1"/>
<path d="M480.4 445.5H489.8" stroke="#000" stroke-width="2"/>
<path d="M495.55 447.5V451.4" stroke="#444" stroke-width="0.9"/>
<rect x="490.7" y="424" width="9.7" height="23.5" fill="#000"/>
<path d="M490.7 436.3H500.4" stroke="#fff" stroke-width="1.7"/>
<rect x="1.2" y="14.2" width="63.8" height="21" fill="#fff" stroke="#000" stroke-width="1.8"/>
<text x="33.2" y="28.5" text-anchor="middle" class="b" style="font-size:10.6px">EuLoI</text>
<rect x="1.2" y="175.5" width="63.8" height="20.8" fill="#fff" stroke="#000" stroke-width="1.8"/>
<text x="33.0" y="189.7" text-anchor="middle" class="b" style="font-size:10.6px">EuHiI</text>
<rect x="1.2" y="335.6" width="63.8" height="20.7" fill="#fff" stroke="#000" stroke-width="1.8"/>
<text x="34.2" y="349.75" text-anchor="middle" class="b" style="font-size:10.6px">HyLoI</text>
<text x="119.8" y="8.2" text-anchor="middle" class="b">Glucose</text>
<text x="124.7" y="29.3" text-anchor="middle" class="u">[ mmol/L ]</text>
<text x="279.7" y="8.2" text-anchor="middle" class="b">Insulin</text>
<text x="280.8" y="29.3" text-anchor="middle" class="u">[ pmol/L ]</text>
<text x="434.5" y="8.2" text-anchor="middle" class="b">Glucagon</text>
<text x="436.7" y="29.3" text-anchor="middle" class="u">[ pg/mL ]</text>
<rect x="82.2" y="502.6" width="355.6" height="19.0" fill="#fff" stroke="#000" stroke-width="1.8"/>
<path d="M95.6 505.5V517.6" stroke="#222" stroke-width="1"/><rect x="91.3" y="508.1" width="8.6" height="6.8" fill="#fff" stroke="#111" stroke-width="1"/><path d="M91.3 511.7H99.9" stroke="#000" stroke-width="1.6"/>
<text x="110" y="516" class="b">No diabetes</text>
<path d="M268.4 505.5V518" stroke="#222" stroke-width="1"/><rect x="263.8" y="508.2" width="9.3" height="7" fill="#000"/><path d="M263.8 511.4H273.1" stroke="#fff" stroke-width="1.3"/>
<text x="283" y="516" class="b">Type 1 diabetes</text>
</g>
</svg>
</body></html>
